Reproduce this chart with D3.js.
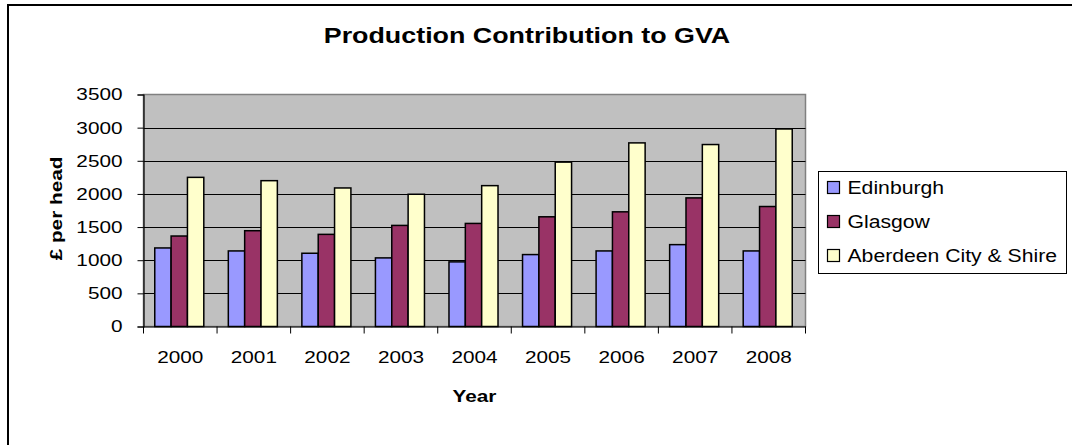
<!DOCTYPE html>
<html><head><meta charset="utf-8">
<script src="https://cdn.jsdelivr.net/npm/d3@7"></script>
<style>body{margin:0;background:#fff;}svg{display:block;font-family:"Liberation Sans",Arial,sans-serif;}</style>
</head><body><svg id="c" width="1072" height="445"></svg>
<script>
const years = ["2000","2001","2002","2003","2004","2005","2006","2007","2008"];
const seriesNames = ["Edinburgh","Glasgow","Aberdeen City & Shire"];
const edinburgh = [1185,1140,1105,1035,975,1085,1140,1235,1140];
const glasgow = [1365,1445,1390,1525,1555,1655,1730,1940,1810];
const aberdeen = [2250,2200,2090,1995,2125,2480,2770,2745,2980];
const colors = ["#9999FF","#993366","#FFFFCC"];
const yTicks = [0,500,1000,1500,2000,2500,3000,3500];

const SX = 1.22;
function stretch(sel, f){
  sel.each(function(){
    const w = this.getComputedTextLength();
    d3.select(this).attr("textLength", w*f).attr("lengthAdjust","spacingAndGlyphs");
  });
}

const svg = d3.select("#c");
svg.append("rect").attr("x",8).attr("y",5).attr("width",1100).attr("height",500)
  .attr("fill","#fff").attr("stroke","#000").attr("stroke-width",2);

const L=143.5, R=805.5, T=94.5, B=326.5;
const x = d3.scaleBand().domain(years).range([L,R]);
const y = d3.scaleLinear().domain([0,3500]).range([B,T]);
const data = [edinburgh, glasgow, aberdeen];

svg.append("rect").attr("x",L).attr("y",T).attr("width",R-L).attr("height",B-T)
  .attr("fill","#C0C0C0").attr("stroke","#808080").attr("stroke-width",1.5);

svg.append("g").selectAll("line").data(yTicks.filter(d=>d>0&&d<3500)).join("line")
  .attr("x1",L).attr("x2",R).attr("y1",d=>Math.round(y(d))+0.5).attr("y2",d=>Math.round(y(d))+0.5)
  .attr("stroke","#000").attr("stroke-width",1);

const bw = x.bandwidth()/4.5;
const off = (x.bandwidth()-3*bw)/2 - 1;
const inner = d3.scaleBand().domain(seriesNames).range([0,bw*3]);
seriesNames.forEach((s,i)=>{
  svg.append("g").selectAll("rect").data(years).join("rect")
    .attr("x",d=>x(d)+off+inner(s))
    .attr("y",(d,j)=>y(data[i][j]))
    .attr("width",inner.bandwidth())
    .attr("height",(d,j)=>B-y(data[i][j]))
    .attr("fill",colors[i]).attr("stroke","#000").attr("stroke-width",1.5);
});

const yAxis = d3.axisLeft(y).tickValues(yTicks).tickSize(6).tickPadding(15).tickFormat(d3.format("d"));
const ga = svg.append("g").attr("transform",`translate(${L},0)`).call(yAxis);
ga.select(".domain").attr("stroke","#000").attr("stroke-width",1.2);
ga.selectAll("text").attr("font-size",17).attr("fill","#000").attr("font-family","Liberation Sans, Arial");
stretch(ga.selectAll("text"), SX);

const xAxis = d3.axisBottom(x).tickSize(0).tickPadding(24);
const gx = svg.append("g").attr("transform",`translate(0,${B})`).call(xAxis);
gx.select(".domain").attr("stroke","#000").attr("stroke-width",1.2);
gx.selectAll("text").attr("font-size",17).attr("fill","#000").attr("font-family","Liberation Sans, Arial");
stretch(gx.selectAll("text"), SX);
svg.append("g").selectAll("line").data(years.concat(["end"])).join("line")
  .attr("x1",(d,i)=>L+i*x.step()).attr("x2",(d,i)=>L+i*x.step())
  .attr("y1",B).attr("y2",B+7).attr("stroke","#000");

const title = svg.append("text").attr("x",527).attr("y",43).attr("text-anchor","middle")
  .attr("font-size",22).attr("font-weight","bold").text("Production Contribution to GVA");
stretch(title, SX);
const xt = svg.append("text").attr("x",(L+R)/2).attr("y",402).attr("text-anchor","middle")
  .attr("font-size",17).attr("font-weight","bold").text("Year");
stretch(xt, SX);
const yt = svg.append("text").attr("transform",`translate(62,208.5) rotate(-90)`).attr("text-anchor","middle")
  .attr("font-size",17).attr("font-weight","bold").text("£ per head");
stretch(yt, SX);

const lg = svg.append("g");
lg.append("rect").attr("x",818.5).attr("y",171.5).attr("width",248).attr("height",102)
  .attr("fill","#fff").attr("stroke","#000").attr("stroke-width",1);
seriesNames.forEach((s,i)=>{
  const yy = 194 + i*34;
  lg.append("rect").attr("x",827.5).attr("y",yy-12.5).attr("width",12).attr("height",12)
    .attr("fill",colors[i]).attr("stroke","#000").attr("stroke-width",1.2);
  const t = lg.append("text").attr("x",847.5).attr("y",yy).attr("font-size",17.5).text(s);
  stretch(t, 1.21);
});
</script></body></html>
